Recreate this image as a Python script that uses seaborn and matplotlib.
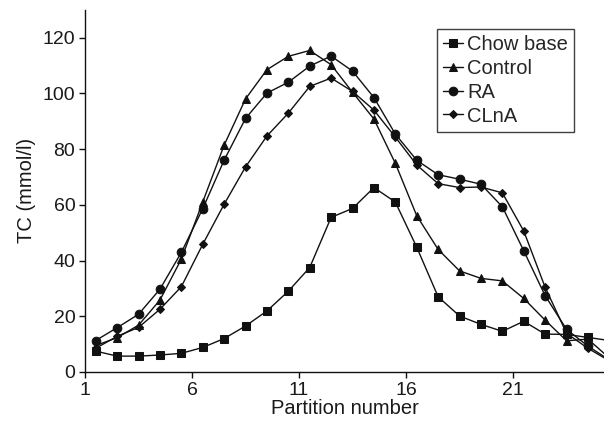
import matplotlib
matplotlib.use("Agg")
import matplotlib.pyplot as plt
import seaborn as sns
import numpy as np
import pandas as pd

sns.set_theme(style="white")
plt.rcParams['font.family'] = ['Liberation Sans', 'DejaVu Sans']

# Partition positions (markers sit between integer ticks)
partition = [1.5, 2.5, 3.5, 4.5, 5.5, 6.5, 7.5, 8.5, 9.5, 10.5, 11.5, 12.5,
             13.5, 14.5, 15.5, 16.5, 17.5, 18.5, 19.5, 20.5, 21.5, 22.5, 23.5, 24.5, 25.5]

chow_base = [7.5, 5.7, 5.7, 6.1, 6.7, 8.8, 12.0, 16.5, 21.9, 29.0, 37.5, 55.5,
             58.7, 66.2, 61.0, 44.8, 27.0, 20.1, 17.1, 14.6, 18.2, 13.6, 13.5, 12.4, 11.3]
control = [9.5, 12.3, 16.8, 25.8, 40.5, 61.0, 81.4, 98.0, 108.5, 113.3, 115.4, 110.3,
           100.4, 90.8, 74.9, 56.1, 44.0, 36.3, 33.6, 32.7, 26.4, 18.6, 11.2, 11.8, 5.0]
ra = [11.3, 15.9, 20.7, 29.7, 42.9, 58.6, 76.0, 91.0, 100.1, 104.0, 109.8, 113.4,
      108.0, 98.5, 85.4, 76.0, 70.8, 69.2, 67.4, 59.3, 43.5, 27.4, 15.3, 9.3, 4.3]
clna = [8.5, 12.8, 16.0, 22.5, 30.6, 45.8, 60.2, 73.6, 84.7, 92.9, 102.5, 105.5,
        100.7, 94.0, 84.3, 74.3, 67.6, 66.2, 66.4, 64.3, 50.6, 30.4, 13.9, 8.5, 4.0]

series_names = ["Chow base", "Control", "RA", "CLnA"]
x_ticks = [1, 6, 11, 16, 21]
y_ticks = [0, 20, 40, 60, 80, 100, 120]

fig = plt.figure(figsize=(6.04, 4.32), dpi=100)
ax = fig.add_axes([85 / 604, 1 - 372 / 432, 1 - 85 / 604, 362.2 / 432])

styles = {
    "Chow base": dict(marker="s", markersize=5.2),
    "Control": dict(marker="^", markersize=6.2),
    "RA": dict(marker="o", markersize=6.2),
    "CLnA": dict(marker="D", markersize=4.2),
}
values = [chow_base, control, ra, clna]
for name, vals in zip(series_names, values):
    df = pd.DataFrame({"x": partition, "y": vals})
    sns.lineplot(data=df, x="x", y="y", ax=ax, color="#111111", linewidth=1.0,
                 markeredgecolor="#111111", markerfacecolor="#111111",
                 label=name, **styles[name])

ax.set_xlim(1, 25.25)
ax.set_ylim(0, 130)
ax.set_xticks(x_ticks)
ax.set_xticklabels([str(t) for t in x_ticks])
ax.set_yticks(y_ticks)
ax.set_yticklabels([str(t) for t in y_ticks])
ax.tick_params(axis="both", direction="out", length=4, width=1, colors="#111111",
               labelsize=14, labelcolor="#1a1a1a", pad=3, bottom=True, left=True)

for s in ["top", "right"]:
    ax.spines[s].set_visible(False)
for s in ["left", "bottom"]:
    ax.spines[s].set_color("#111111")
    ax.spines[s].set_linewidth(1.0)

ax.set_xlabel("Partition number", fontsize=14.5, color="#1a1a1a", labelpad=0)
ax.set_ylabel("TC (mmol/l)", fontsize=14.5, color="#1a1a1a", labelpad=5)

leg = ax.legend(loc="upper right", bbox_to_anchor=((574 - 85) / 519, (372 - 29) / 362.2),
                borderaxespad=0, frameon=True, fancybox=False, fontsize=14.5,
                handlelength=1.0, handletextpad=0.2, labelspacing=0.24, borderpad=0.3)
leg.get_frame().set_edgecolor("#111111")
leg.get_frame().set_linewidth(1.0)
leg.get_frame().set_facecolor("white")

fig.savefig("out.png", dpi=100)
